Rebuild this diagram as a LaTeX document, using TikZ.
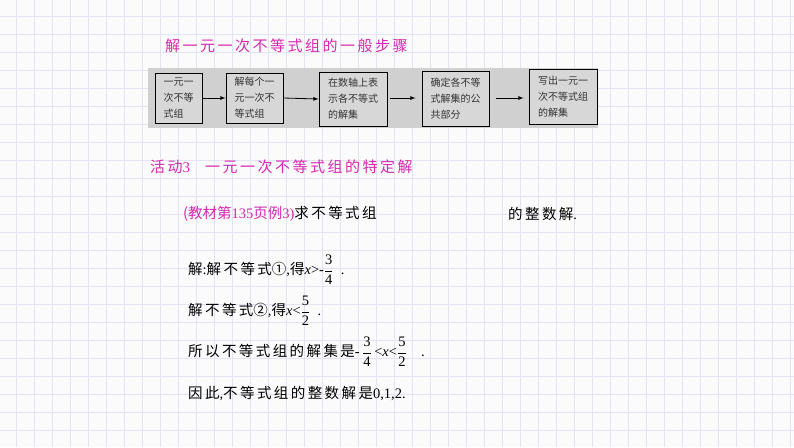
\documentclass[tikz,border=0pt]{standalone}
\usepackage{fontspec}
\setmainfont{Liberation Serif}
\newfontfamily\cjk{Noto Sans CJK SC}
\newfontfamily\ser{Liberation Serif}
\definecolor{mag}{RGB}{215,40,175}
\definecolor{gridc}{RGB}{226,228,242}
\definecolor{band}{RGB}{208,208,208}
\newcommand{\fr}[2]{$\displaystyle\frac{\textrm{#1}}{\textrm{#2}}$}
\begin{document}
\begin{tikzpicture}[x=1pt,y=-1pt,
  stepbox/.style={draw=black,line width=0.9pt,fill=band!85!white,inner sep=0pt,align=left,font=\cjk\fontsize{10}{16}\selectfont,text=black!80},
  arr/.style={-latex,line width=0.8pt},
  body/.style={anchor=west,inner sep=0pt,font=\cjk\fontsize{14.5}{16}\selectfont}]
\useasboundingbox (0,0) rectangle (794,447);
\fill[white!97!gray] (0,0) rectangle (794,447);
\foreach \i in {0,...,44} {\draw[gridc,line width=0.6pt] (\i*18+16,0) -- (\i*18+16,447);}
\foreach \j in {0,...,25} {\draw[gridc,line width=0.6pt] (0,\j*18+16) -- (794,\j*18+16);}
\node[anchor=west,inner sep=0pt,text=mag,font=\cjk\fontsize{15}{16}\selectfont] (t1) at (165,46) {解\,一\,元\,一\,次\,不\,等\,式\,组\,的\,一\,般\,步\,骤};
\fill[band] (148,68) rectangle (598,128);
\node[stepbox,minimum width=47,minimum height=50] (b1) at (178.5,98) {一元一\\次不等\\式组};
\node[stepbox,minimum width=57,minimum height=50] (b2) at (254.5,98) {解每个一\\元一次不\\等式组};
\node[stepbox,minimum width=68,minimum height=54] (b3) at (353,99) {在数轴上表\\示各不等式\\的解集};
\node[stepbox,minimum width=67,minimum height=55] (b4) at (455.5,98.5) {确定各不等\\式解集的公\\共部分};
\node[stepbox,minimum width=68,minimum height=55] (b5) at (563,96.5) {写出一元一\\次不等式组\\的解集};
\draw[arr] (b1.east) -- (b2.west);
\draw[arr] (b2.east) -- (b3.west);
\draw[arr] ([xshift=3]b3.east|-b1.east) -- ([xshift=-6]b4.west|-b1.east);
\draw[arr] ([xshift=7]b4.east|-b1.east) -- ([xshift=-5]b5.west|-b1.east);
\node[anchor=west,inner sep=0pt,text=mag,font=\cjk\fontsize{15}{16}\selectfont] (t2) at (150,167) {活\,动{\ser 3}\quad 一\,元\,一\,次\,不\,等\,式\,组\,的\,特\,定\,解};
\node[body] (q1) at (183,214) {{\color{mag}(教材第{\ser 135}页例{\ser 3)}}求\,不\,等\,式\,组};
\node[body] (q2) at (508,214) {的\,整\,数\,解{\ser .}};
\node[body] (s1) at (188,270) {解{\ser :}解\,不\,等\,式①{\ser ,}得{\ser \textit{x}>-}\fr{3}{4}\enspace{\ser .}};
\node[body] (s2) at (188,311) {解\,不\,等\,式②{\ser ,}得{\ser \textit{x}<}\fr{5}{2}\enspace{\ser .}};
\node[body] (s3) at (188,352) {所\,以\,不\,等\,式\,组\,的\,解\,集\,是{\ser -\,}\fr{3}{4}\,{\ser <\textit{x}<}\fr{5}{2}\quad{\ser .}};
\node[body] (s4) at (188,393) {因\,此{\ser ,}不\,等\,式\,组\,的\,整\,数\,解\,是{\ser 0,1,2.}};
\end{tikzpicture}
\end{document}
